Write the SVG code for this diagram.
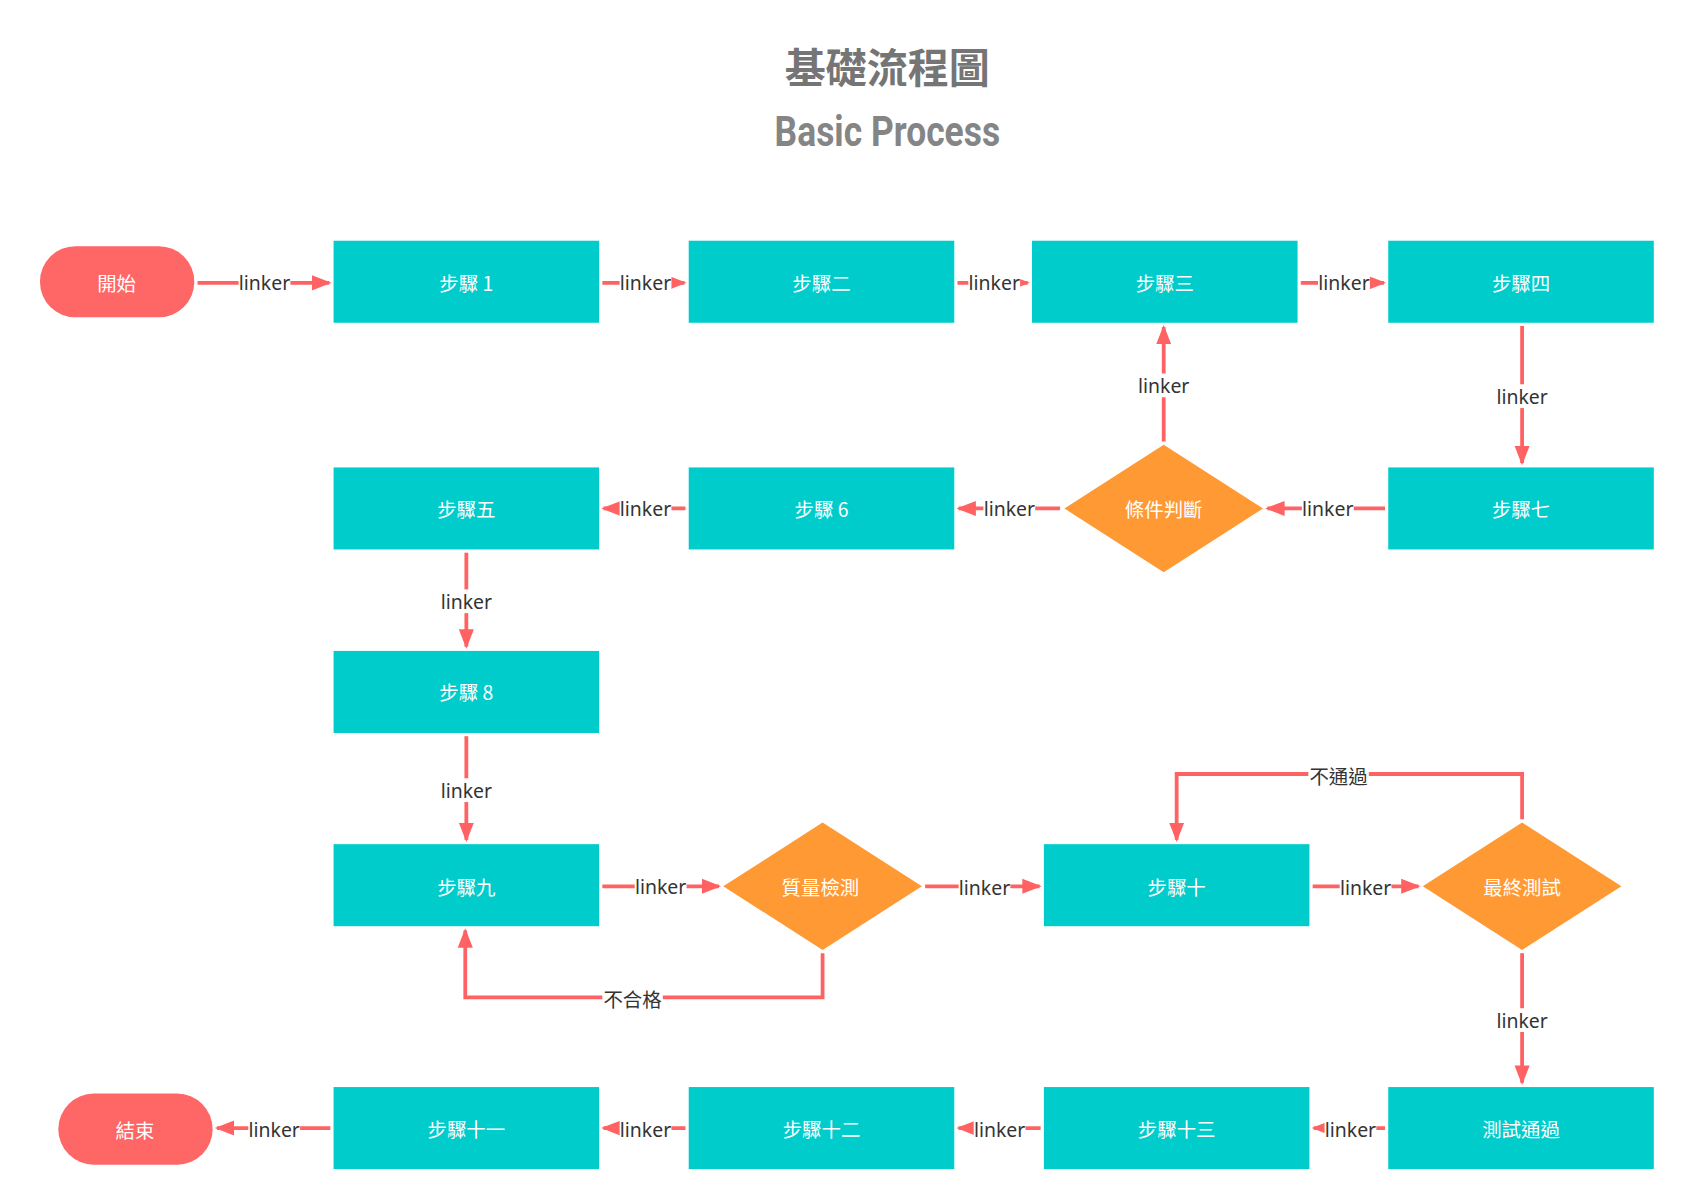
<svg xmlns="http://www.w3.org/2000/svg" width="1684" height="1202" viewBox="0 0 1684 1202">
<style>
.t{font-family:"Noto Sans CJK TC","Noto Sans",sans-serif;font-size:18px;fill:#fff;text-anchor:middle;dominant-baseline:central}
.box{fill:#00cccc}
.dia{fill:#ff9933}
.term{fill:#ff6666}
.c{fill:none;stroke:#ff6262;stroke-width:3.5}
.l{font-family:"Noto Sans","Noto Sans CJK TC",sans-serif;font-size:18px;fill:#333;text-anchor:middle;dominant-baseline:central}
.lb{fill:#fff}
</style>
<defs>
<marker id="a" markerUnits="userSpaceOnUse" markerWidth="20" markerHeight="16" refX="16" refY="8" orient="auto"><path d="M0,1 L18,8 L0,15 Z" fill="#ff6262"/></marker>
</defs>
<rect width="1684" height="1202" fill="#fff"/>
<g transform="scale(1.0795)">
<text x="822" y="60" font-family="Noto Sans CJK TC,sans-serif" font-weight="bold" font-size="38" fill="#757575" text-anchor="middle" dominant-baseline="central">基礎流程圖</text>
<text x="822" y="122" font-family="Roboto,Liberation Sans,sans-serif" font-weight="bold" font-size="40" fill="#858585" text-anchor="middle" dominant-baseline="central" transform="translate(822 122) scale(0.82 1) translate(-822 -122)">Basic Process</text>

<g id="connectors">
<path class="c" d="M183 262H305" marker-end="url(#a)"/>
<path class="c" d="M558 262H634" marker-end="url(#a)"/>
<path class="c" d="M887 262H952" marker-end="url(#a)"/>
<path class="c" d="M1205 262H1282" marker-end="url(#a)"/>
<path class="c" d="M1410 302V429" marker-end="url(#a)"/>
<path class="c" d="M1283 471H1174" marker-end="url(#a)"/>
<path class="c" d="M1078 409V303" marker-end="url(#a)"/>
<path class="c" d="M982 471H888" marker-end="url(#a)"/>
<path class="c" d="M635 471H559" marker-end="url(#a)"/>
<path class="c" d="M432 512V599" marker-end="url(#a)"/>
<path class="c" d="M432 682V778" marker-end="url(#a)"/>
<path class="c" d="M558 821H666" marker-end="url(#a)"/>
<path class="c" d="M857 821H963" marker-end="url(#a)"/>
<path class="c" d="M1216 821H1314" marker-end="url(#a)"/>
<path class="c" d="M1410 759V717H1090V778" marker-end="url(#a)"/>
<path class="c" d="M762 883V924H431V862" marker-end="url(#a)"/>
<path class="c" d="M1410 883V1003" marker-end="url(#a)"/>
<path class="c" d="M1283 1045H1217" marker-end="url(#a)"/>
<path class="c" d="M964 1045H888" marker-end="url(#a)"/>
<path class="c" d="M635 1045H559" marker-end="url(#a)"/>
<path class="c" d="M306 1045H201" marker-end="url(#a)"/>
<g>
<rect class="lb" x="221" y="251" width="48" height="22"/><text class="l" x="245" y="262">linker</text>
<rect class="lb" x="574" y="251" width="48" height="22"/><text class="l" x="598" y="262">linker</text>
<rect class="lb" x="897" y="251" width="48" height="22"/><text class="l" x="921" y="262">linker</text>
<rect class="lb" x="1221" y="251" width="48" height="22"/><text class="l" x="1245" y="262">linker</text>
<rect class="lb" x="1386" y="356" width="48" height="22"/><text class="l" x="1410" y="367">linker</text>
<rect class="lb" x="1054" y="346" width="48" height="22"/><text class="l" x="1078" y="357">linker</text>
<rect class="lb" x="1206" y="460" width="48" height="22"/><text class="l" x="1230" y="471">linker</text>
<rect class="lb" x="911" y="460" width="48" height="22"/><text class="l" x="935" y="471">linker</text>
<rect class="lb" x="574" y="460" width="48" height="22"/><text class="l" x="598" y="471">linker</text>
<rect class="lb" x="408" y="546" width="48" height="22"/><text class="l" x="432" y="557">linker</text>
<rect class="lb" x="408" y="721" width="48" height="22"/><text class="l" x="432" y="732">linker</text>
<rect class="lb" x="588" y="810" width="48" height="22"/><text class="l" x="612" y="821">linker</text>
<rect class="lb" x="888" y="810" width="48" height="22"/><text class="l" x="912" y="822">linker</text>
<rect class="lb" x="1241" y="810" width="48" height="22"/><text class="l" x="1265" y="822">linker</text>
<rect class="lb" x="1212" y="708" width="56" height="22"/><text class="l" x="1240" y="719">不通過</text>
<rect class="lb" x="558" y="915" width="56" height="22"/><text class="l" x="586" y="926">不合格</text>
<rect class="lb" x="1386" y="934" width="48" height="22"/><text class="l" x="1410" y="945">linker</text>
<rect class="lb" x="1227" y="1034" width="48" height="22"/><text class="l" x="1251" y="1046">linker</text>
<rect class="lb" x="902" y="1034" width="48" height="22"/><text class="l" x="926" y="1046">linker</text>
<rect class="lb" x="574" y="1034" width="48" height="22"/><text class="l" x="598" y="1046">linker</text>
<rect class="lb" x="230" y="1034" width="48" height="22"/><text class="l" x="254" y="1046">linker</text>
</g>
</g>

<g id="start"><rect class="term" x="37" y="228" width="143" height="66" rx="33" ry="33"/><text class="t" x="108" y="262">開始</text></g>
<g id="s1"><rect class="box" x="309" y="223" width="246" height="76"/><text class="t" x="432" y="262">步驟 1</text></g>
<g id="s2"><rect class="box" x="638" y="223" width="246" height="76"/><text class="t" x="761" y="262">步驟二</text></g>
<g id="s3"><rect class="box" x="956" y="223" width="246" height="76"/><text class="t" x="1079" y="262">步驟三</text></g>
<g id="s4"><rect class="box" x="1286" y="223" width="246" height="76"/><text class="t" x="1409" y="262">步驟四</text></g>
<g id="s5"><rect class="box" x="309" y="433" width="246" height="76"/><text class="t" x="432" y="471">步驟五</text></g>
<g id="s6"><rect class="box" x="638" y="433" width="246" height="76"/><text class="t" x="761" y="471">步驟 6</text></g>
<g id="cond"><path class="dia" d="M1078 412L1170 471L1078 530L986 471Z"/><text class="t" x="1078" y="471">條件判斷</text></g>
<g id="s7"><rect class="box" x="1286" y="433" width="246" height="76"/><text class="t" x="1409" y="471">步驟七</text></g>
<g id="s8"><rect class="box" x="309" y="603" width="246" height="76"/><text class="t" x="432" y="641">步驟 8</text></g>
<g id="s9"><rect class="box" x="309" y="782" width="246" height="76"/><text class="t" x="432" y="821">步驟九</text></g>
<g id="qc"><path class="dia" d="M762 762L854 821L762 880L670 821Z"/><text class="t" x="760" y="821">質量檢測</text></g>
<g id="s10"><rect class="box" x="967" y="782" width="246" height="76"/><text class="t" x="1090" y="821">步驟十</text></g>
<g id="final"><path class="dia" d="M1410 762L1502 821L1410 880L1318 821Z"/><text class="t" x="1410" y="821">最終測試</text></g>
<g id="pass"><rect class="box" x="1286" y="1007" width="246" height="76"/><text class="t" x="1409" y="1045">測試通過</text></g>
<g id="s13"><rect class="box" x="967" y="1007" width="246" height="76"/><text class="t" x="1090" y="1045">步驟十三</text></g>
<g id="s12"><rect class="box" x="638" y="1007" width="246" height="76"/><text class="t" x="761" y="1045">步驟十二</text></g>
<g id="s11"><rect class="box" x="309" y="1007" width="246" height="76"/><text class="t" x="432" y="1045">步驟十一</text></g>
<g id="end"><rect class="term" x="54" y="1013" width="143" height="66" rx="33" ry="33"/><text class="t" x="125" y="1046">結束</text></g>
</g>
</svg>
